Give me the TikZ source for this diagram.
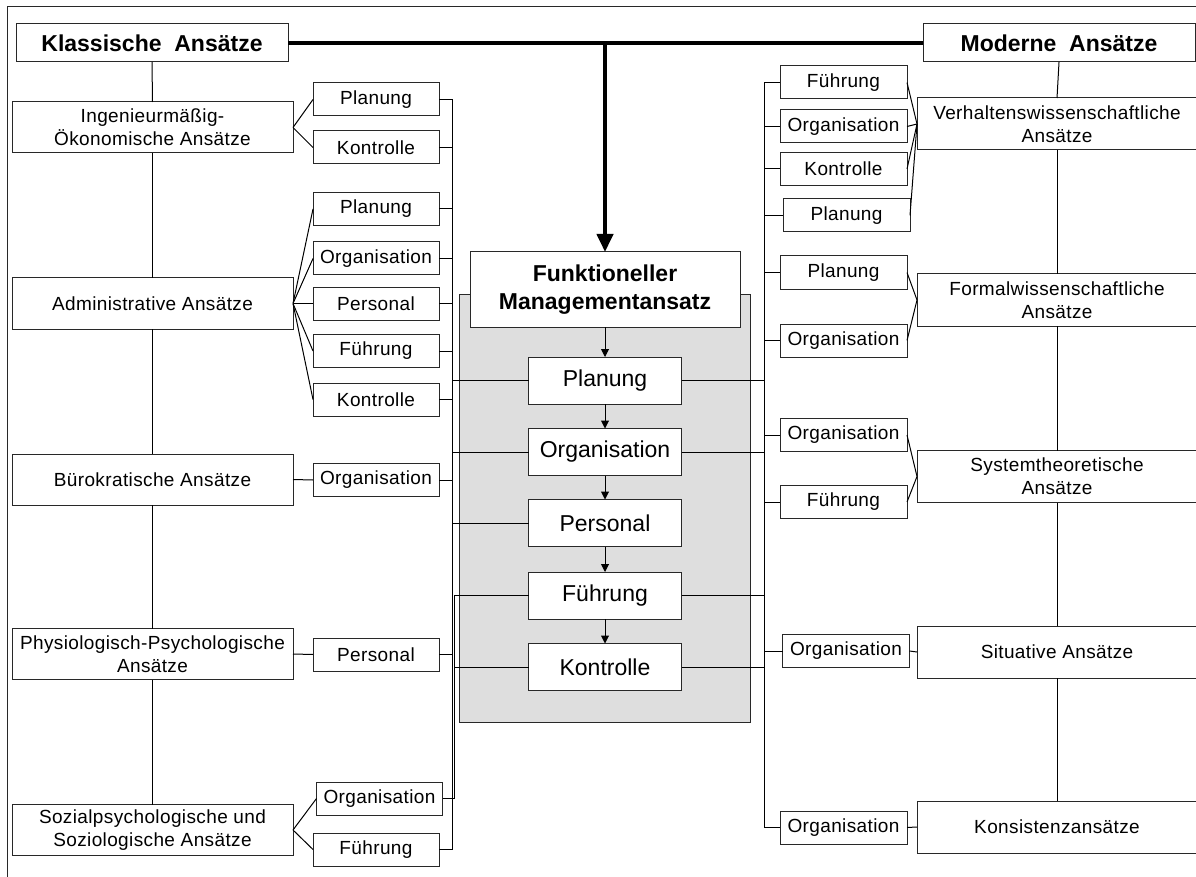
\documentclass[tikz,border=0pt]{standalone}
\usepackage{fontspec}
\setmainfont{Liberation Sans}
\newfontfamily\spaced[LetterSpace=2.0]{Liberation Sans}
\usetikzlibrary{arrows.meta}
\definecolor{panel}{RGB}{222,222,222}
\definecolor{edge}{RGB}{40,40,40}
\tikzset{
  every node/.style={inner sep=0pt, outer sep=0pt},
  basebox/.style={draw=edge, line width=1pt, fill=white, align=center},
  head/.style={basebox, minimum width=272pt, minimum height=38pt,
    font=\bfseries\fontsize{23}{28}\selectfont},
  groupL/.style={basebox, minimum width=281pt, minimum height=51pt,
    font=\spaced\fontsize{19}{23}\selectfont},
  groupR/.style={basebox, minimum width=280pt, minimum height=52pt,
    font=\spaced\fontsize{19}{23}\selectfont},
  fnbox/.style={basebox, minimum width=126pt, minimum height=33pt,
    font=\spaced\fontsize{19}{23}\selectfont},
  corebox/.style={basebox, minimum width=153pt, minimum height=47pt,
    font=\fontsize{23}{27}\selectfont},
  wire/.style={draw=black, line width=1pt},
  flow/.style={wire, -{Triangle[length=8pt,width=8pt]}},
  trunk/.style={draw=black, line width=4pt}
}
\begin{document}
\begin{tikzpicture}[x=1pt,y=-1pt]
\useasboundingbox (0,0) rectangle (1196,877);

% outer frame (left and top edges only)
\draw[edge, line width=1pt] (7,877) -- (7,7) -- (1196,7);

% grey panel behind the function chain
\fill[panel, draw=edge, line width=1pt] (459,294) rectangle (750,722);

% headings
\node[head] (klass) at (152,43) {Klassische\ \ Ansätze};
\node[head] (mod) at (1059,43) {Moderne\ \ Ansätze};

% classical approaches
\node[groupL] (ing) at (152.5,127.5) {Ingenieurmäßig-\\Ökonomische Ansätze};
\node[groupL] (adm) at (152.5,303.5) {Administrative Ansätze};
\node[groupL] (bur) at (152.5,479.5) {Bürokratische Ansätze};
\node[groupL] (phy) at (152.5,654) {Physiologisch-Psychologische\\Ansätze};
\node[groupL] (soz) at (152.5,830) {Sozialpsychologische und\\Soziologische Ansätze};

\node[fnbox] (lp1) at (376,99.5) {Planung};
\node[fnbox] (lk1) at (376,147.5) {Kontrolle};
\node[fnbox] (lp2) at (376,209) {Planung};
\node[fnbox] (lo2) at (376,258.5) {Organisation};
\node[fnbox] (lpe2) at (376,303.5) {Personal};
\node[fnbox] (lf2) at (376,351) {Führung};
\node[fnbox] (lk2) at (376,399.5) {Kontrolle};
\node[fnbox] (lo3) at (376,480) {Organisation};
\node[fnbox] (lpe4) at (376,654.5) {Personal};
\node[fnbox] (lo5) at (379.5,798.5) {Organisation};
\node[fnbox] (lf5) at (376,849.5) {Führung};

% modern approaches
\node[groupR] (ver) at (1057,124) {Verhaltenswissenschaftliche\\Ansätze};
\node[groupR] (for) at (1057,300) {Formalwissenschaftliche\\Ansätze};
\node[groupR] (sys) at (1057,476.5) {Systemtheoretische\\Ansätze};
\node[groupR] (sit) at (1057,652) {Situative Ansätze};
\node[groupR] (kon) at (1057,827) {Konsistenzansätze};

\node[fnbox, minimum width=127pt] (rf1) at (843.5,82.5) {Führung};
\node[fnbox, minimum width=127pt] (ro1) at (843.5,126.5) {Organisation};
\node[fnbox, minimum width=127pt] (rk1) at (843.5,169) {Kontrolle};
\node[fnbox, minimum width=127pt] (rp1) at (846.5,215.5) {Planung};
\node[fnbox, minimum width=127pt] (rp2) at (843.5,272.5) {Planung};
\node[fnbox, minimum width=127pt] (ro2) at (843.5,340.5) {Organisation};
\node[fnbox, minimum width=127pt] (ro3) at (843.5,435) {Organisation};
\node[fnbox, minimum width=127pt] (rf3) at (843.5,502) {Führung};
\node[fnbox, minimum width=127pt] (ro4) at (846,651) {Organisation};
\node[fnbox, minimum width=127pt] (ro5) at (843.5,827.5) {Organisation};

% functional management chain
\node[basebox, minimum width=270pt, minimum height=75pt,
  font=\bfseries\fontsize{23}{28}\selectfont] (fm) at (605,289.5)
  {Funktioneller\\Managementansatz};
\node[corebox] (cp) at (605,380.5) {Planung};
\node[corebox] (co) at (605,452) {Organisation};
\node[corebox] (cpe) at (605,523) {Personal};
\node[corebox] (cf) at (605,595.5) {Führung};
\node[corebox] (ck) at (605,667) {Kontrolle};

% bus positions
\coordinate (LB) at (452,0);
\coordinate (LB2) at (454.5,0);
\coordinate (RB) at (764,0);
\coordinate (drop) at (605,43);

% thick top link and main arrow
\draw[trunk] (klass.east) -- (mod.west);
\draw[trunk, -{Triangle[length=18pt,width=16pt]}] (drop) -- (fm.north);

% chain arrows
\draw[flow] (fm.south) -- (cp.north);
\draw[flow] (cp.south) -- (co.north);
\draw[flow] (co.south) -- (cpe.north);
\draw[flow] (cpe.south) -- (cf.north);
\draw[flow] (cf.south) -- (ck.north);

% classical column spine
\draw[wire] (klass.south) -- (ing.north);
\draw[wire] (ing.south) -- (adm.north);
\draw[wire] (adm.south) -- (bur.north);
\draw[wire] (bur.south) -- (phy.north);
\draw[wire] (phy.south) -- (soz.north);

% modern column spine
\draw[wire] (mod.south) -- (ver.north);
\draw[wire] (ver.south) -- (for.north);
\draw[wire] (for.south) -- (sys.north);
\draw[wire] (sys.south) -- (sit.north);
\draw[wire] (sit.south) -- (kon.north);

% fans from the classical approaches to their functions
\foreach \t in {lp1,lk1} \draw[wire] (ing.east) -- (\t.west);
\foreach \t in {lp2,lo2,lpe2,lf2,lk2} \draw[wire] (adm.east) -- (\t.west);
\draw[wire] (bur.east) -- (lo3.west);
\draw[wire] (phy.east) -- (lpe4.west);
\foreach \t in {lo5,lf5} \draw[wire] (soz.east) -- (\t.west);

% fans from the functions to the modern approaches
\foreach \t in {rf1,ro1,rk1,rp1} \draw[wire] (\t.east) -- (ver.west);
\foreach \t in {rp2,ro2} \draw[wire] (\t.east) -- (for.west);
\foreach \t in {ro3,rf3} \draw[wire] (\t.east) -- (sys.west);
\draw[wire] (ro4.east) -- (sit.west);
\draw[wire] (ro5.east) -- (kon.west);

% left bus
\draw[wire] (lp1.east -| LB) -- (lf5.east -| LB);
\foreach \t in {lp1,lk1,lp2,lo2,lpe2,lf2,lk2,lo3,lpe4,lf5}
  \draw[wire] (\t.east) -- (\t.east -| LB);
\draw[wire] (cp.west) -- (cp.west -| LB);
\draw[wire] (co.west) -- (co.west -| LB);
\draw[wire] (cpe.west) -- (cpe.west -| LB);
\draw[wire] (cf.west) -- (cf.west -| LB2) -- (lo5.east -| LB2) -- (lo5.east);
\draw[wire] (ck.west) -- (ck.west -| LB2);

% right bus
\draw[wire] (rf1.west -| RB) -- (ro5.west -| RB);
\foreach \t in {rf1,ro1,rk1,rp1,rp2,ro2,ro3,rf3,ro4,ro5}
  \draw[wire] (\t.west) -- (\t.west -| RB);
\foreach \t in {cp,co,cf,ck}
  \draw[wire] (\t.east) -- (\t.east -| RB);
\end{tikzpicture}
\end{document}
